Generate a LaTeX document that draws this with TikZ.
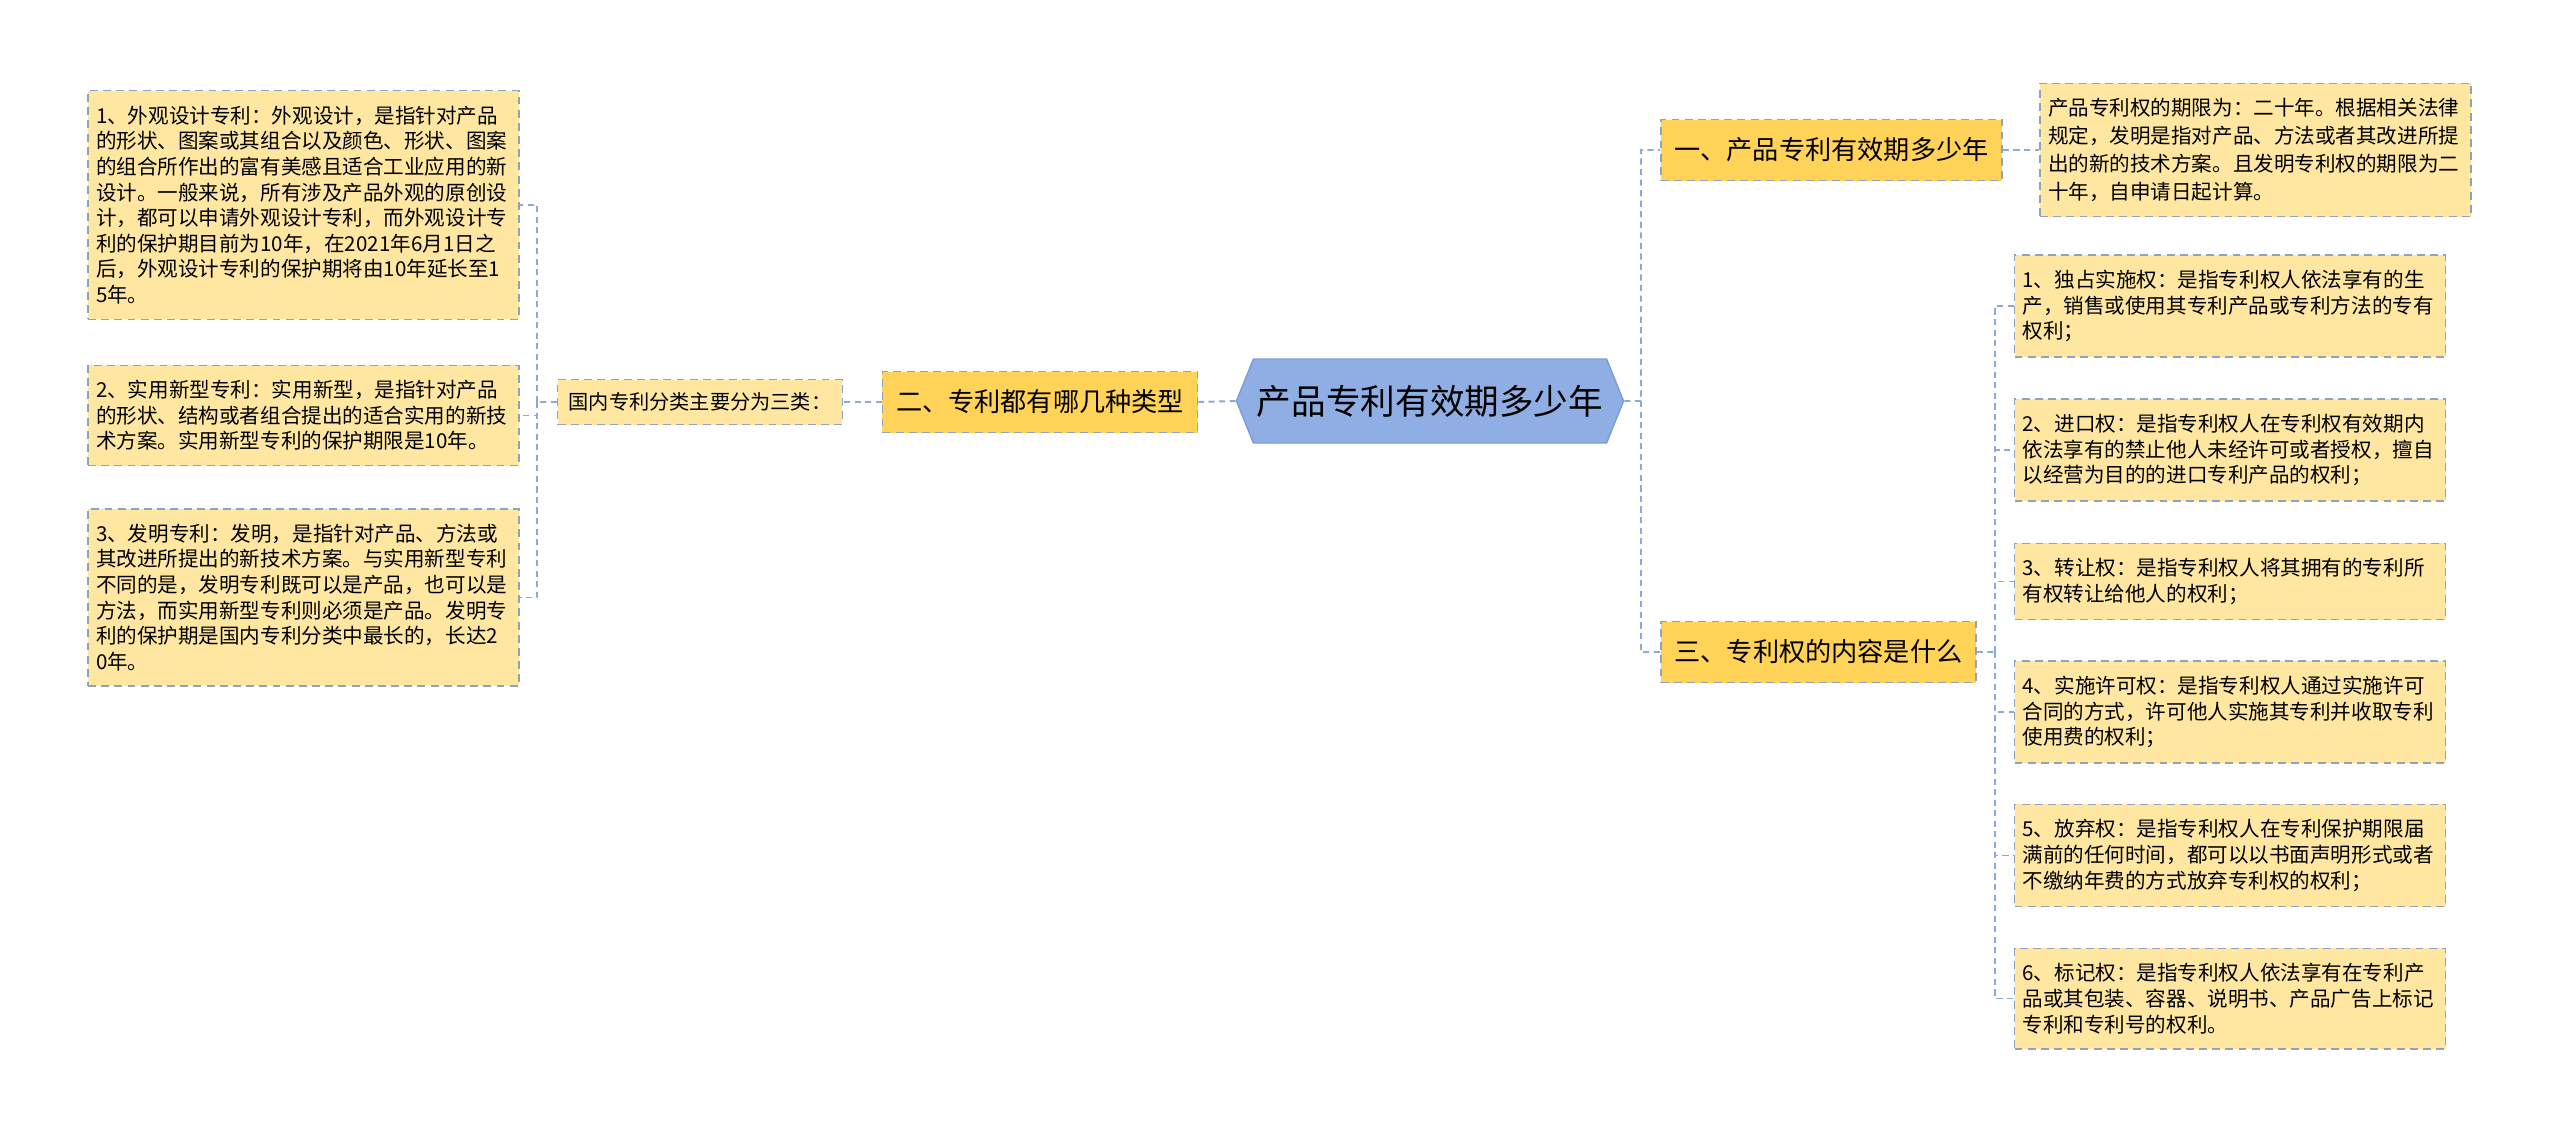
\documentclass[tikz,border=0pt]{standalone}
\usepackage{fontspec}
\setmainfont{Noto Sans CJK SC}
\usepackage{tikz}
\usetikzlibrary{shapes,positioning}
\definecolor{RootBlue}{HTML}{8FAEE3}
\definecolor{RootEdge}{HTML}{7C9CD6}
\definecolor{BranchGold}{HTML}{FFD258}
\definecolor{LeafYellow}{HTML}{FFE7A2}
\definecolor{FrameGrey}{HTML}{8FA2BE}
\definecolor{LinkBlue}{HTML}{8CA9DA}

\begin{document}
\begin{tikzpicture}[
  frame/.style={draw=FrameGrey, line width=0.85pt, dash pattern=on 4.5pt off 3pt},
  leaf/.style={frame, fill=LeafYellow, text width=8.3cm, inner xsep=0.16cm, inner ysep=0.3cm, align=left, font=\fontsize{11.7}{14.6}\selectfont},
  branch/.style={frame, fill=BranchGold, minimum height=1.22cm, inner xsep=0.27cm, font=\fontsize{14.9}{18}\selectfont},
  link/.style={draw=LinkBlue, line width=1.1pt, dash pattern=on 3.5pt off 2.5pt}
]
  \useasboundingbox (0,0) rectangle (51.2,-22.74);

  \node[signal, signal to=west and east, signal pointer angle=136, fill=RootBlue, draw=RootEdge, line width=0.8pt, minimum height=1.68cm, inner xsep=0.07cm, font=\fontsize{19.7}{24}\selectfont, xshift=28.60cm, yshift=-8.02cm] (root) {产品专利有效期多少年};

  \node[branch, xshift=36.63cm, yshift=-3.00cm] (b1) {一、产品专利有效期多少年};
  \node[branch, xshift=20.80cm, yshift=-8.04cm] (b2) {二、专利都有哪几种类型};
  \node[branch, xshift=36.37cm, yshift=-13.04cm] (b3) {三、专利权的内容是什么};

  \node[frame, fill=LeafYellow, minimum height=0.9cm, inner xsep=0.22cm, font=\fontsize{11.5}{14}\selectfont, xshift=14.00cm, yshift=-8.04cm] (dom) {国内专利分类主要分为三类：};

  \node[leaf, xshift=6.07cm, yshift=-4.10cm] (l1) {1、外观设计专利：外观设计，是指针对产品\\
的形状、图案或其组合以及颜色、形状、图案\\
的组合所作出的富有美感且适合工业应用的新\\
设计。一般来说，所有涉及产品外观的原创设\\
计，都可以申请外观设计专利，而外观设计专\\
利的保护期目前为10年，在2021年6月1日之\\
后，外观设计专利的保护期将由10年延长至1\\
5年。};
  \node[leaf, xshift=6.07cm, yshift=-8.31cm] (l2) {2、实用新型专利：实用新型，是指针对产品\\
的形状、结构或者组合提出的适合实用的新技\\
术方案。实用新型专利的保护期限是10年。};
  \node[leaf, xshift=6.07cm, yshift=-11.95cm] (l3) {3、发明专利：发明，是指针对产品、方法或\\
其改进所提出的新技术方案。与实用新型专利\\
不同的是，发明专利既可以是产品，也可以是\\
方法，而实用新型专利则必须是产品。发明专\\
利的保护期是国内专利分类中最长的，长达2\\
0年。};

  \node[leaf, font=\fontsize{11.7}{15.9}\selectfont, xshift=45.11cm, yshift=-3.00cm] (t1) {产品专利权的期限为：二十年。根据相关法律\\
规定，发明是指对产品、方法或者其改进所提\\
出的新的技术方案。且发明专利权的期限为二\\
十年，自申请日起计算。};

  \node[leaf, xshift=44.60cm, yshift=-6.12cm] (r1) {1、独占实施权：是指专利权人依法享有的生\\
产，销售或使用其专利产品或专利方法的专有\\
权利；};
  \node[leaf, xshift=44.60cm, yshift=-9.00cm] (r2) {2、进口权：是指专利权人在专利权有效期内\\
依法享有的禁止他人未经许可或者授权，擅自\\
以经营为目的的进口专利产品的权利；};
  \node[leaf, xshift=44.60cm, yshift=-11.63cm] (r3) {3、转让权：是指专利权人将其拥有的专利所\\
有权转让给他人的权利；};
  \node[leaf, xshift=44.60cm, yshift=-14.24cm] (r4) {4、实施许可权：是指专利权人通过实施许可\\
合同的方式，许可他人实施其专利并收取专利\\
使用费的权利；};
  \node[leaf, xshift=44.60cm, yshift=-17.11cm] (r5) {5、放弃权：是指专利权人在专利保护期限届\\
满前的任何时间，都可以以书面声明形式或者\\
不缴纳年费的方式放弃专利权的权利；};
  \node[leaf, xshift=44.60cm, yshift=-19.97cm] (r6) {6、标记权：是指专利权人依法享有在专利产\\
品或其包装、容器、说明书、产品广告上标记\\
专利和专利号的权利。};

  \coordinate (rj) at (32.82,-8.02);
  \coordinate (lj) at (10.74,-8.04);
  \coordinate (r3j) at (39.90,-13.04);

  \draw[link] (root.east) -- (rj) |- (b1.west);
  \draw[link] (rj) |- (b3.west);
  \draw[link] (root.west) -- (b2.east);
  \draw[link] (b2.west) -- (dom.east);
  \draw[link] (dom.west) -- (lj);
  \foreach \n in {l1,l2,l3}
    \draw[link] (lj) |- (\n.east);
  \draw[link] (b1.east) -- (t1.west);
  \draw[link] (b3.east) -- (r3j);
  \foreach \n in {r1,r2,r3,r4,r5,r6}
    \draw[link] (r3j) |- (\n.west);
\end{tikzpicture}
\end{document}
